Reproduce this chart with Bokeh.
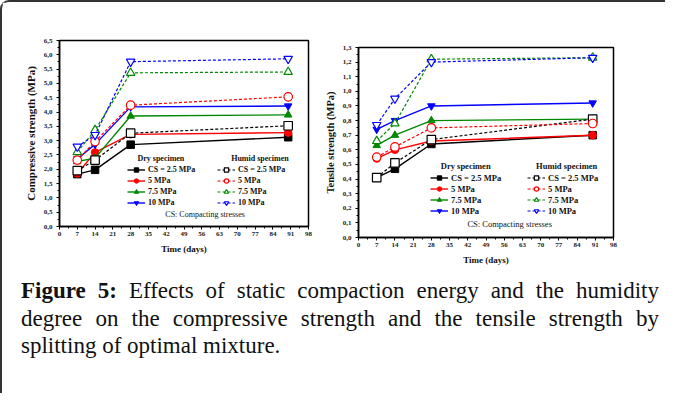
from bokeh.plotting import figure
from bokeh.models import (Legend, LegendItem, Label, FixedTicker, CustomJSTickFormatter,
                          Range1d, Div)
from bokeh.layouts import row, column
from bokeh.embed import file_html
from bokeh.resources import INLINE

# ---------------- data ----------------
days = [7, 14, 28, 90]
x_ticks = [0, 7, 14, 21, 28, 35, 42, 49, 56, 63, 70, 77, 84, 91, 98]
comp_ticks = [0.0, 0.5, 1.0, 1.5, 2.0, 2.5, 3.0, 3.5, 4.0, 4.5, 5.0, 5.5, 6.0, 6.5]
tens_ticks = [0.0, 0.1, 0.2, 0.3, 0.4, 0.5, 0.6, 0.7, 0.8, 0.9, 1.0, 1.1, 1.2, 1.3]
series_labels = ["CS = 2.5 MPa", "5 MPa", "7.5 MPa", "10 MPa"]
series_colors = ["#000000", "#ff0000", "#008800", "#0000ff"]
series_markers = ["square", "circle", "triangle", "inverted_triangle"]

# compressive strength (MPa)
comp_dry_25 = [1.83, 1.98, 2.86, 3.12]
comp_dry_5 = [1.85, 2.59, 3.22, 3.28]
comp_dry_75 = [2.27, 2.39, 3.86, 3.90]
comp_dry_10 = [2.36, 2.87, 4.18, 4.21]
comp_hum_25 = [1.95, 2.32, 3.26, 3.52]
comp_hum_5 = [2.32, 2.97, 4.24, 4.53]
comp_hum_75 = [2.60, 3.37, 5.37, 5.40]
comp_hum_10 = [2.79, 3.20, 5.76, 5.86]

# tensile strength (MPa)
tens_dry_25 = [0.41, 0.47, 0.64, 0.70]
tens_dry_5 = [0.54, 0.60, 0.66, 0.70]
tens_dry_75 = [0.63, 0.70, 0.80, 0.81]
tens_dry_10 = [0.74, 0.80, 0.90, 0.92]
tens_hum_25 = [0.41, 0.51, 0.67, 0.81]
tens_hum_5 = [0.55, 0.62, 0.75, 0.78]
tens_hum_75 = [0.66, 0.78, 1.22, 1.23]
tens_hum_10 = [0.77, 0.95, 1.20, 1.23]

FONT = "Liberation Serif"


def minor_between(ticks):
    return [(a + b) / 2 for a, b in zip(ticks[:-1], ticks[1:])]


def make_plot(dry, hum, y_ticks, ylabel, w, h, mb_left, mb_right, mb_top, mb_bottom,
              ylabel_size, leg_dry_loc, leg_hum_loc, hdr_y, hdr_dry_x, hdr_hum_x,
              note_x, note_y, leg_font):
    p = figure(width=w, height=h,
               x_range=Range1d(0, 98), y_range=Range1d(0, y_ticks[-1]),
               output_backend="svg", toolbar_location=None,
               min_border_left=mb_left, min_border_right=mb_right,
               min_border_top=mb_top, min_border_bottom=mb_bottom)
    p.xgrid.visible = False
    p.ygrid.visible = False
    p.outline_line_color = "black"
    p.outline_line_width = 1.5
    p.outline_line_alpha = 1.0
    p.background_fill_color = "white"
    p.border_fill_color = "white"

    p.xaxis.ticker = FixedTicker(ticks=x_ticks, minor_ticks=minor_between(x_ticks))
    p.yaxis.ticker = FixedTicker(ticks=y_ticks, minor_ticks=minor_between(y_ticks))
    p.yaxis.formatter = CustomJSTickFormatter(code="return tick.toFixed(1).replace('.', ',');")
    for ax in (p.xaxis, p.yaxis):
        ax.axis_line_width = 1.5
        ax.axis_line_color = "black"
        ax.major_tick_in = 0
        ax.major_tick_out = 3
        ax.minor_tick_in = 0
        ax.minor_tick_out = 2
        ax.major_tick_line_width = 1
        ax.major_label_text_font = FONT
        ax.major_label_text_font_size = "7px"
        ax.major_label_text_font_style = "bold"
        ax.major_label_text_color = "#222222"
        ax.axis_label_text_font = FONT
        ax.axis_label_text_font_style = "bold"
        ax.axis_label_text_color = "#111111"
    p.xaxis.major_label_standoff = 2
    p.yaxis.major_label_standoff = 4
    p.xaxis.axis_label = "Time (days)"
    p.xaxis.axis_label_text_font_size = "9px"
    p.xaxis.axis_label_standoff = 5
    p.yaxis.axis_label = ylabel
    p.yaxis.axis_label_text_font_size = ylabel_size
    p.yaxis.axis_label_standoff = 4

    dry_items, hum_items = [], []
    for i in range(4):
        c = series_colors[i]
        m = series_markers[i]
        l1 = p.line(days, dry[i], line_color=c, line_width=1.4)
        s1 = p.scatter(days, dry[i], marker=m, size=7.5, fill_color=c, line_color=c)
        dry_items.append(LegendItem(label=series_labels[i], renderers=[l1, s1]))
    for i in range(4):
        c = series_colors[i]
        m = series_markers[i]
        l2 = p.line(days, hum[i], line_color=c, line_width=1.2, line_dash="3 2")
        s2 = p.scatter(days, hum[i], marker=m, size=8.5, fill_color="white", line_color=c,
                       line_width=1.2)
        hum_items.append(LegendItem(label=series_labels[i], renderers=[l2, s2]))

    for items, loc in ((dry_items, leg_dry_loc), (hum_items, leg_hum_loc)):
        lg = Legend(items=items, location=loc, orientation="vertical",
                    border_line_color=None, background_fill_alpha=0,
                    padding=0, margin=0, spacing=0,
                    label_height=11, glyph_height=11, glyph_width=18,
                    label_standoff=3, label_text_font=FONT,
                    label_text_font_size=leg_font, label_text_font_style="bold",
                    label_text_color="#111111")
        p.add_layout(lg, "center")

    for txt, x in (("Dry specimen", hdr_dry_x), ("Humid specimen", hdr_hum_x)):
        p.add_layout(Label(x=x, y=hdr_y, text=txt, text_font=FONT, text_font_size=leg_font,
                           text_font_style="bold", text_align="center",
                           text_baseline="middle", text_color="#111111"))
    p.add_layout(Label(x=note_x, y=note_y, text="CS: Compacting stresses", text_font=FONT,
                       text_font_size=leg_font, text_align="center",
                       text_baseline="middle", text_color="#111111"))
    return p


# p1 frame: 249 x 186 ; p2 frame: 258 x 190
p1 = make_plot([comp_dry_25, comp_dry_5, comp_dry_75, comp_dry_10],
               [comp_hum_25, comp_hum_5, comp_hum_75, comp_hum_10],
               comp_ticks, "Compressive strength (MPa)",
               w=319, h=269, mb_left=57, mb_right=13, mb_top=38, mb_bottom=45,
               ylabel_size="11px", leg_dry_loc=(68, 18), leg_hum_loc=(158, 18),
               hdr_y=2.38, hdr_dry_x=39.9, hdr_hum_x=78.9, note_x=57.3, note_y=0.42,
               leg_font="8px")

p2 = make_plot([tens_dry_25, tens_dry_5, tens_dry_75, tens_dry_10],
               [tens_hum_25, tens_hum_5, tens_hum_75, tens_hum_10],
               tens_ticks, "Tensile strength (MPa)",
               w=344, h=269, mb_left=34, mb_right=52, mb_top=45, mb_bottom=34,
               ylabel_size="10.5px", leg_dry_loc=(72, 21), leg_hum_loc=(169, 21),
               hdr_y=0.486, hdr_dry_x=41.2, hdr_hum_x=80.0, note_x=58.1, note_y=0.089,
               leg_font="8.5px")

caption_html = """
<div style="font-family:'Liberation Serif', serif; font-size:23px; line-height:27.5px; color:#111; width:638px;">
<div style="text-align:justify; text-align-last:justify; white-space:nowrap;"><b>Figure 5:</b> Effects of static compaction energy and the humidity</div>
<div style="text-align:justify; text-align-last:justify; white-space:nowrap;">degree on the compressive strength and the tensile strength by</div>
<div>splitting of optimal mixture.</div>
</div>
"""
cap = Div(text=caption_html, width=640, height=116, margin=(6, 0, 0, 19))

# each plot in its own column so that their frames are not aligned to each other;
# the whole block is framed by a top/left border with a rounded corner
layout = column(row(column(p1), column(p2)), cap,
                styles={"border-left": "2px solid #333333", "border-top": "2px solid #333333",
                        "border-top-left-radius": "9px"})

open("out.html", "w").write(file_html(layout, INLINE))
